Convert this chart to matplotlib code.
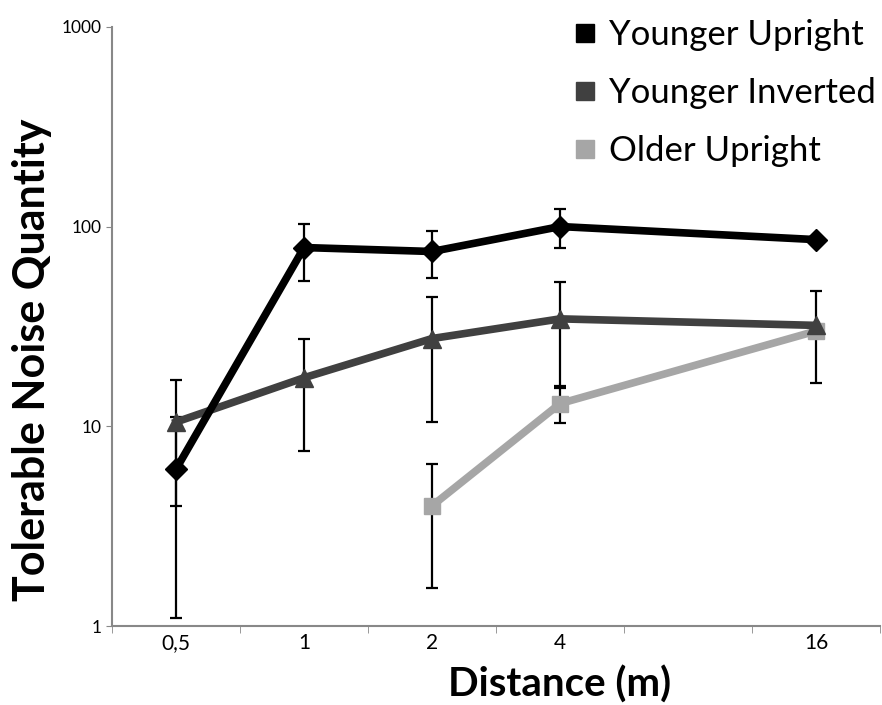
import numpy as np
import matplotlib.pyplot as plt
from matplotlib.lines import Line2D

categories = ['0,5', '1', '2', '4', '', '16']

young_up_x = [0, 1, 2, 3, 5]
young_up = [6.1, 78.5, 75, 100, 86]
young_up_err = [5.0, 25, 20, 22, 0]

young_inv_x = [0, 1, 2, 3, 5]
young_inv = [10.5, 17.5, 27.5, 34.5, 32]
young_inv_err = [6.5, 10, 17, 18.5, 15.5]

old_up_x = [2, 3, 5]
old_up = [4.0, 13, 30]
old_up_err = [2.45, 2.6, 0]

plt.rcParams['font.family'] = ['Lato', 'DejaVu Sans']

fig = plt.figure(figsize=(8.82, 7.05), dpi=100)
ax = fig.add_axes([0.127, 0.112, 0.871, 0.85])

series = [
    (young_up_x, young_up, young_up_err, '#000000', 'D', 11, 'Younger Upright'),
    (young_inv_x, young_inv, young_inv_err, '#404040', '^', 13, 'Younger Inverted'),
    (old_up_x, old_up, old_up_err, '#a6a6a6', 's', 12, 'Older Upright'),
]

for xs, ys, es, col, mk, ms, lab in series:
    ax.errorbar(xs, ys, yerr=es, fmt='none', ecolor='black', elinewidth=1.6,
                capsize=4, capthick=1.6, zorder=2)
for xs, ys, es, col, mk, ms, lab in reversed(series):
    ax.plot(xs, ys, color=col, lw=5.5, marker=mk, markersize=ms, zorder=3)

ax.set_yscale('log')
ax.set_ylim(1, 1000)
ax.set_yticks([1, 10, 100, 1000])
ax.set_yticklabels(['1', '10', '100', '1000'])
ax.yaxis.set_minor_locator(plt.NullLocator())
ax.tick_params(axis='y', labelsize=12.5, length=4, color='#888888')

ax.set_xlim(-0.5, 5.5)
ax.set_xticks(range(len(categories)))
ax.set_xticklabels(categories)
ax.set_xticks(np.arange(-0.5, 6, 1), minor=True)
ax.tick_params(axis='x', which='major', length=0, labelsize=15, pad=5)
ax.tick_params(axis='x', which='minor', length=5, color='#888888')

for s in ['top', 'right']:
    ax.spines[s].set_visible(False)
for s in ['left', 'bottom']:
    ax.spines[s].set_color('#888888')
    ax.spines[s].set_linewidth(1.5)

fig.text(32 / 882, 1 - 360 / 705, 'Tolerable Noise Quantity', fontsize=31,
         fontweight='bold', rotation=90, ha='center', va='center')
fig.text(560 / 882, 1 - 685 / 705, 'Distance (m)', fontsize=29,
         fontweight='bold', ha='center', va='center')

handles = [Line2D([], [], ls='none', marker='s', markersize=13, color=c, label=l)
           for _, _, _, c, _, _, l in series]
ax.legend(handles=handles, loc='upper right', bbox_to_anchor=(1.035, 1.065),
          frameon=False, fontsize=25, handletextpad=0.35, labelspacing=0.75,
          handlelength=0.7)

fig.savefig('out.png', dpi=100)
